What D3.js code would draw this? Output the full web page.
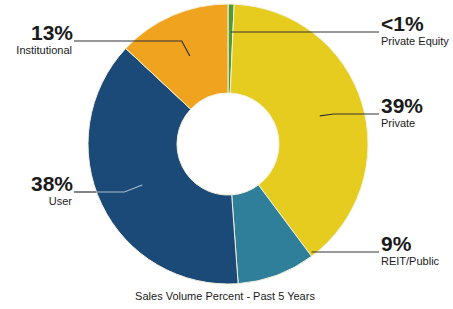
<!DOCTYPE html>
<html>
<head>
<meta charset="utf-8">
<script src="https://cdn.jsdelivr.net/npm/d3@7"></script>
<style>
  body { margin: 0; background: #fff; }
  text { font-family: "Liberation Sans", Arial, sans-serif; fill: #1a1a1a; }
  .pct { font-weight: bold; font-size: 21px; }
  .name { font-size: 11px; }
  .title { font-size: 11px; }
</style>
</head>
<body>
<svg width="453" height="309"></svg>
<script>
const categories = ["Private Equity", "Private", "REIT/Public", "User", "Institutional"];
const values = [0.7, 39, 9, 38, 13];
const valueLabels = ["<1%", "39%", "9%", "38%", "13%"];
const colours = ["#4f9a2e", "#e6cc1f", "#2f7e9a", "#1c4a78", "#efa31f"];
const title = "Sales Volume Percent - Past 5 Years";

// label placement: side, y of the leader, where it starts in the slice
const layout = [
  { side: 1, y: 32, r: 128, t: 0.5, elbow: 0 },
  { side: 1, y: 114, r: 96, t: 0.5, elbow: 14 },
  { side: 1, y: 252, r: 140, t: 0, elbow: 0, flat: true },
  { side: -1, y: 192, r: 95, t: 0.5, elbow: 18, light: true },
  { side: -1, y: 41, r: 96, t: 0.5, elbow: 8 }
];

const svg = d3.select("svg");
const cx = 228, cy = 144, outer = 140, inner = 51;
const g = svg.append("g").attr("transform", `translate(${cx},${cy})`);

const pie = d3.pie().sort(null).value((d) => d);
const arcs = pie(values);
const arc = d3.arc().innerRadius(inner).outerRadius(outer);

g.selectAll("path")
  .data(arcs)
  .join("path")
  .attr("d", arc)
  .attr("fill", (d, i) => colours[i])
  .attr("stroke", "#f4f1dc")
  .attr("stroke-width", 1);

function polar(a, r) {
  return [Math.sin(a) * r, -Math.cos(a) * r];
}

const leftX = 74 - cx, rightX = 379 - cx;

arcs.forEach((d, i) => {
  const L = layout[i];
  const a = d.startAngle + (d.endAngle - d.startAngle) * L.t;
  let p0 = polar(a, L.r);
  const ly = L.y - cy;
  if (L.flat) p0 = [p0[0], ly];
  if (i === 0) p0 = [p0[0], ly];
  const endX = L.side > 0 ? rightX : leftX;
  const elbow = [p0[0] + L.side * L.elbow, ly];
  const pts = [p0, elbow, [endX, ly]];
  if (L.light) {
    const xc = -Math.sqrt(outer * outer - ly * ly);
    g.append("path")
      .attr("d", d3.line()([p0, elbow, [xc, ly]]))
      .attr("fill", "none").attr("stroke", "#a9bccd").attr("stroke-width", 1.2);
    g.append("path")
      .attr("d", d3.line()([[xc, ly], [endX, ly]]))
      .attr("fill", "none").attr("stroke", "#333").attr("stroke-width", 1.2);
  } else {
    g.append("path")
      .attr("d", d3.line()(pts))
      .attr("fill", "none").attr("stroke", "#333").attr("stroke-width", 1.2);
  }
  const tx = L.side > 0 ? endX + 2 : endX - 1;
  const anchor = L.side > 0 ? "start" : "end";
  g.append("text").attr("class", "pct")
    .attr("x", tx).attr("y", ly - 1)
    .attr("text-anchor", anchor)
    .text(valueLabels[i]);
  g.append("text").attr("class", "name")
    .attr("x", L.side > 0 ? tx : tx - 1).attr("y", ly + 13)
    .attr("text-anchor", anchor)
    .text(categories[i]);
});

svg.append("text").attr("class", "title")
  .attr("x", 225).attr("y", 300)
  .attr("text-anchor", "middle")
  .text(title);
</script>
</body>
</html>
